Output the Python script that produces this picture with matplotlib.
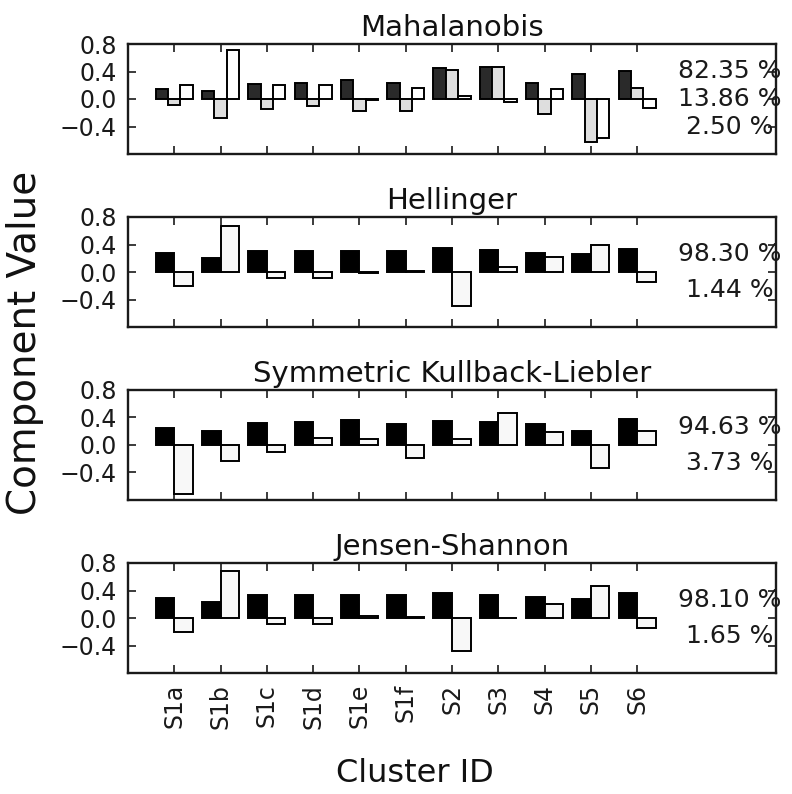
import numpy as np
import matplotlib
matplotlib.use("Agg")
import matplotlib.pyplot as plt

clusters = ["S1a", "S1b", "S1c", "S1d", "S1e", "S1f", "S2", "S3", "S4", "S5", "S6"]

titles = ["Mahalanobis", "Hellinger", "Symmetric Kullback-Liebler", "Jensen-Shannon"]

maha_c1 = [0.14, 0.11, 0.22, 0.24, 0.27, 0.24, 0.45, 0.47, 0.24, 0.37, 0.41]
maha_c2 = [-0.09, -0.28, -0.15, -0.10, -0.18, -0.17, 0.42, 0.46, -0.22, -0.63, 0.16]
maha_c3 = [0.21, 0.71, 0.21, 0.21, -0.02, 0.16, 0.04, -0.04, 0.14, -0.56, -0.13]
maha_pct = ["82.35 %", "13.86 %", "2.50 %"]

hell_c1 = [0.28, 0.21, 0.31, 0.31, 0.31, 0.30, 0.35, 0.32, 0.28, 0.26, 0.33]
hell_c2 = [-0.21, 0.67, -0.09, -0.09, -0.01, 0.01, -0.49, 0.07, 0.22, 0.40, -0.14]
hell_pct = ["98.30 %", "1.44 %"]

skl_c1 = [0.24, 0.21, 0.32, 0.33, 0.36, 0.31, 0.35, 0.33, 0.31, 0.21, 0.38]
skl_c2 = [-0.71, -0.23, -0.10, 0.10, 0.09, -0.19, 0.09, 0.47, 0.19, -0.34, 0.20]
skl_pct = ["94.63 %", "3.73 %"]

js_c1 = [0.29, 0.23, 0.34, 0.34, 0.34, 0.33, 0.37, 0.34, 0.31, 0.28, 0.37]
js_c2 = [-0.20, 0.69, -0.09, -0.08, 0.03, 0.01, -0.48, 0.00, 0.21, 0.47, -0.15]
js_pct = ["98.10 %", "1.65 %"]

panels = [
    ([maha_c1, maha_c2, maha_c3], maha_pct),
    ([hell_c1, hell_c2], hell_pct),
    ([skl_c1, skl_c2], skl_pct),
    ([js_c1, js_c2], js_pct),
]

colors3 = ["#2a2a2a", "#dedede", "white"]
colors2 = ["black", "#f8f8f8"]

W, H = 792, 794
fig = plt.figure(figsize=(W / 100, H / 100), dpi=100)
fig.patch.set_facecolor("white")

left = 128 / W
width = (776 - 128) / W
height = 110 / H
tops = [44, 217, 390, 563]

x = np.arange(len(clusters))
for k, ((series, pcts), title) in enumerate(zip(panels, titles)):
    bottom = 1 - (tops[k] + 110) / H
    ax = fig.add_axes([left, bottom, width, height])
    n = len(series)
    bw = 0.8 / n
    cols = colors3 if n == 3 else colors2
    for j, vals in enumerate(series):
        ax.bar(x - 0.4 + j * bw, vals, width=bw, align="edge",
               color=cols[j], edgecolor="black", linewidth=1.4, zorder=2)
    ax.set_xlim(-1, 13)
    ax.set_ylim(-0.8, 0.8)
    ax.set_yticks([-0.4, 0.0, 0.4, 0.8])
    ax.set_yticklabels(["\u22120.4", "0.0", "0.4", "0.8"])
    ax.set_xticks(x)
    if k == 3:
        ax.set_xticklabels(clusters, rotation=90)
    else:
        ax.set_xticklabels([])
    ax.tick_params(direction="in", length=6, width=1.2, top=True, right=True,
                   labelsize=17, pad=8, colors="#1a1a1a")
    for sp in ax.spines.values():
        sp.set_linewidth(1.7)
        sp.set_color("#1a1a1a")
    ax.set_title(title, fontsize=21, pad=6, color="#111111")
    for i, p in enumerate(pcts):
        ax.text(0.929, 1 - (i + 1) / (len(pcts) + 1), p, transform=ax.transAxes,
                ha="center", va="center", fontsize=18, color="#1a1a1a", zorder=3)

fig.text(25 / W, 1 - 343 / H, "Component Value", rotation=90, ha="center",
         va="center", fontsize=28, color="#111111")
fig.text(415 / W, 1 - 773 / H, "Cluster ID", ha="center", va="center",
         fontsize=23, color="#111111")

fig.savefig("out.png", dpi=100, facecolor="white")
